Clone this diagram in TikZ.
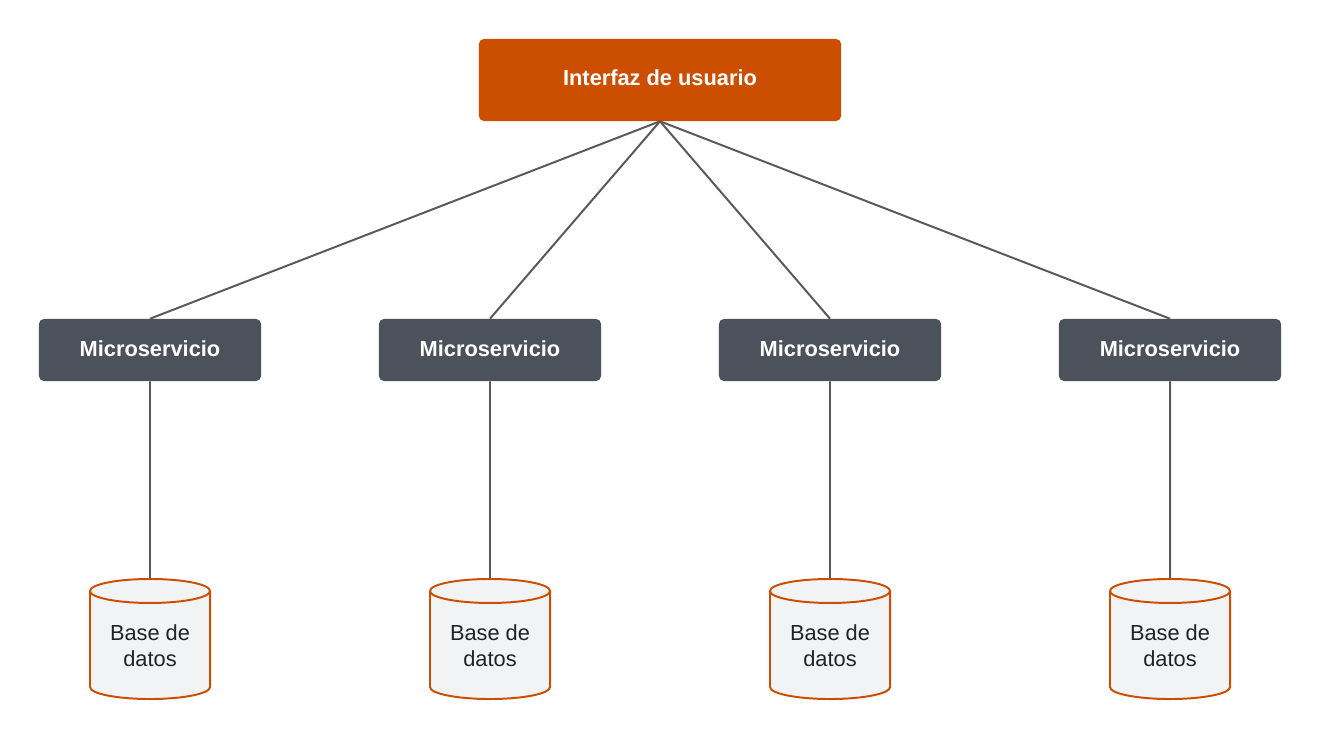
\documentclass[tikz,border=0pt]{standalone}
\usepackage{fontspec}
\setmainfont{Liberation Sans}
\usetikzlibrary{shapes.geometric}
\definecolor{uiorange}{HTML}{CC4E00}
\definecolor{msgray}{HTML}{4B525C}
\definecolor{dbfill}{HTML}{F2F3F5}
\definecolor{linkgray}{HTML}{595959}
\definecolor{textdark}{HTML}{1F2329}
\tikzset{
  uibox/.style={draw=none,fill=uiorange,rounded corners=3.5pt,text=white,text depth=0.35em,
    font=\fontsize{15.5}{18.6}\selectfont\bfseries,minimum width=9.05cm,minimum height=2.05cm},
  msbox/.style={draw=none,fill=msgray,rounded corners=3.5pt,text=white,text depth=0.25em,
    font=\fontsize{15.5}{18.6}\selectfont\bfseries,minimum width=5.55cm,minimum height=1.55cm},
  dbcyl/.style={cylinder,shape border rotate=90,aspect=0.3,draw=uiorange,fill=dbfill,
    line width=1.4pt,text=textdark,align=center,inner sep=0pt,anchor=south,
    font=\fontsize{15.5}{18.6}\selectfont,minimum width=3cm,minimum height=3cm},
  link/.style={draw=linkgray,line width=1.4pt}
}
\begin{document}
\begin{tikzpicture}[x=0.025cm,y=-0.025cm]
\useasboundingbox[fill=white] (0,0) rectangle (1320,740);

\node[uibox] (ui) at (660,80) {Interfaz de usuario};

\node[msbox] (ms1) at (150,350) {Microservicio};
\node[msbox] (ms2) at (490,350) {Microservicio};
\node[msbox] (ms3) at (830,350) {Microservicio};
\node[msbox] (ms4) at (1170,350) {Microservicio};

\node[dbcyl] (db1) at (150,700) {Base de\\datos};
\node[dbcyl] (db2) at (490,700) {Base de\\datos};
\node[dbcyl] (db3) at (830,700) {Base de\\datos};
\node[dbcyl] (db4) at (1170,700) {Base de\\datos};

\draw[link] (ui.south) -- (ms1.north);
\draw[link] (ui.south) -- (ms2.north);
\draw[link] (ui.south) -- (ms3.north);
\draw[link] (ui.south) -- (ms4.north);

\draw[link] (ms1.south) -- (db1.north);
\draw[link] (ms2.south) -- (db2.north);
\draw[link] (ms3.south) -- (db3.north);
\draw[link] (ms4.south) -- (db4.north);
\end{tikzpicture}
\end{document}
